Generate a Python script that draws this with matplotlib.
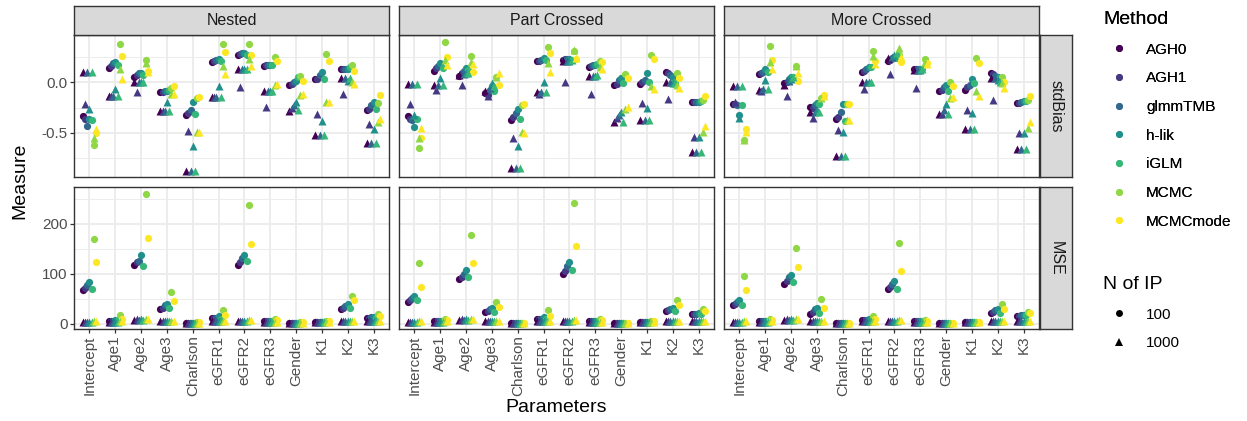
import numpy as np
import matplotlib
matplotlib.use("Agg")
import matplotlib.pyplot as plt
from matplotlib.lines import Line2D

plt.rcParams['font.family'] = ['Liberation Sans', 'DejaVu Sans']
plt.rcParams['axes.unicode_minus'] = False

params = ['Intercept', 'Age1', 'Age2', 'Age3', 'Charlson', 'eGFR1', 'eGFR2',
          'eGFR3', 'Gender', 'K1', 'K2', 'K3']
methods = ['AGH0', 'AGH1', 'glmmTMB', 'h-lik', 'iGLM', 'MCMC', 'MCMCmode']
method_colors = ['#440154', '#443A83', '#31688E', '#21908C', '#35B779',
                 '#8FD744', '#FDE725']
designs = ['Nested', 'Part Crossed', 'More Crossed']
n_ip = ['100', '1000']

# stdBias, one row per parameter, columns follow `methods`
nested_bias_100 = [
    [-0.33, -0.36, -0.43, -0.36, -0.37, -0.62, -0.50],
    [0.145, 0.16, 0.19, 0.20, 0.17, 0.38, 0.26],
    [0.055, 0.07, 0.09, 0.09, 0.07, 0.22, 0.11],
    [-0.10, -0.10, -0.09, -0.085, -0.08, -0.06, -0.04],
    [-0.32, -0.30, -0.27, -0.19, -0.31, -0.16, -0.15],
    [0.20, 0.21, 0.22, 0.23, 0.21, 0.38, 0.30],
    [0.27, 0.28, 0.29, 0.29, 0.27, 0.38, 0.27],
    [0.16, 0.17, 0.17, 0.17, 0.17, 0.25, 0.21],
    [-0.03, -0.02, 0.0, 0.015, 0.05, 0.065, 0.015],
    [0.03, 0.03, 0.07, 0.10, 0.03, 0.28, 0.21],
    [0.13, 0.13, 0.13, 0.13, 0.155, 0.17, 0.11],
    [-0.27, -0.26, -0.225, -0.19, -0.26, -0.20, -0.13],
]
nested_bias_1000 = [
    [0.10, -0.21, 0.10, -0.26, 0.10, -0.55, -0.46],
    [-0.14, -0.14, -0.14, -0.07, -0.14, 0.13, 0.03],
    [0.0, -0.10, 0.0, 0.005, 0.0, 0.19, 0.10],
    [-0.28, -0.28, -0.28, -0.19, -0.28, -0.12, -0.12],
    [-0.87, -0.48, -0.87, -0.63, -0.87, -0.49, -0.49],
    [-0.15, -0.15, -0.15, -0.04, -0.15, 0.16, 0.08],
    [0.13, -0.05, 0.13, 0.13, 0.13, 0.23, 0.16],
    [-0.085, -0.24, -0.085, -0.085, -0.085, -0.03, -0.02],
    [-0.28, -0.25, -0.22, -0.19, -0.27, -0.13, -0.12],
    [-0.52, -0.31, -0.52, -0.38, -0.52, -0.19, -0.19],
    [0.04, -0.12, 0.04, 0.015, 0.04, 0.005, -0.02],
    [-0.60, -0.41, -0.60, -0.46, -0.60, -0.39, -0.36],
]
part_bias_100 = [
    [-0.33, -0.36, -0.37, -0.44, -0.36, -0.65, -0.55],
    [0.115, 0.14, 0.16, 0.19, 0.14, 0.40, 0.25],
    [0.06, 0.09, 0.115, 0.14, 0.12, 0.26, 0.105],
    [-0.11, -0.125, -0.075, -0.04, -0.09, 0.055, -0.03],
    [-0.37, -0.34, -0.30, -0.26, -0.36, -0.225, -0.215],
    [0.21, 0.21, 0.22, 0.24, 0.22, 0.35, 0.29],
    [0.22, 0.23, 0.23, 0.23, 0.22, 0.31, 0.23],
    [0.155, 0.16, 0.17, 0.17, 0.18, 0.21, 0.20],
    [-0.03, -0.02, 0.02, 0.04, -0.01, 0.08, 0.045],
    [-0.02, 0.005, 0.02, 0.095, 0.0, 0.27, 0.23],
    [0.10, 0.09, 0.07, 0.055, 0.005, 0.095, 0.04],
    [-0.19, -0.19, -0.19, -0.19, -0.185, -0.175, -0.135],
]
part_bias_1000 = [
    [-0.02, -0.21, -0.02, -0.32, -0.02, -0.55, -0.45],
    [-0.03, -0.08, -0.03, 0.045, -0.03, 0.22, 0.17],
    [0.07, -0.03, 0.08, 0.09, 0.09, 0.20, 0.18],
    [-0.09, -0.14, -0.06, -0.01, -0.04, 0.055, 0.095],
    [-0.85, -0.55, -0.85, -0.63, -0.85, -0.49, -0.50],
    [-0.10, -0.12, -0.10, 0.0, -0.10, 0.19, 0.105],
    [0.21, 0.005, 0.21, 0.21, 0.22, 0.32, 0.24],
    [0.06, -0.12, 0.06, 0.06, 0.07, 0.155, 0.13],
    [-0.39, -0.35, -0.32, -0.29, -0.39, -0.26, -0.24],
    [-0.37, -0.20, -0.37, -0.25, -0.37, -0.04, -0.07],
    [0.005, -0.165, 0.005, -0.01, -0.01, -0.03, -0.06],
    [-0.69, -0.54, -0.69, -0.54, -0.69, -0.49, -0.43],
]
more_bias_100 = [
    [-0.215, -0.21, -0.225, -0.32, -0.225, -0.57, -0.46],
    [0.08, 0.09, 0.105, 0.13, 0.105, 0.36, 0.22],
    [-0.01, 0.005, 0.03, 0.055, 0.055, 0.16, 0.015],
    [-0.24, -0.25, -0.225, -0.20, -0.215, -0.16, -0.13],
    [-0.365, -0.34, -0.29, -0.21, -0.38, -0.21, -0.215],
    [0.105, 0.115, 0.13, 0.155, 0.15, 0.31, 0.21],
    [0.205, 0.22, 0.24, 0.24, 0.24, 0.27, 0.20],
    [0.13, 0.13, 0.13, 0.13, 0.13, 0.23, 0.19],
    [-0.085, -0.075, -0.05, -0.03, -0.085, 0.005, -0.035],
    [-0.075, -0.05, -0.03, 0.03, -0.01, 0.24, 0.19],
    [0.09, 0.08, 0.06, 0.055, 0.04, 0.055, 0.005],
    [-0.20, -0.20, -0.19, -0.185, -0.185, -0.175, -0.14],
]
more_bias_1000 = [
    [-0.035, -0.19, -0.035, -0.35, -0.035, -0.57, -0.49],
    [-0.075, -0.085, -0.07, 0.02, -0.07, 0.20, 0.13],
    [-0.03, -0.135, 0.015, 0.03, 0.055, 0.16, 0.09],
    [-0.29, -0.355, -0.29, -0.275, -0.29, -0.16, -0.14],
    [-0.73, -0.47, -0.73, -0.49, -0.73, -0.37, -0.37],
    [0.0, -0.07, 0.0, 0.005, 0.0, 0.26, 0.18],
    [0.24, 0.08, 0.25, 0.27, 0.29, 0.335, 0.25],
    [0.12, -0.055, 0.12, 0.12, 0.13, 0.20, 0.18],
    [-0.31, -0.31, -0.275, -0.215, -0.31, -0.16, -0.15],
    [-0.46, -0.27, -0.46, -0.30, -0.46, -0.09, -0.135],
    [0.04, -0.17, 0.04, 0.02, 0.005, -0.01, -0.06],
    [-0.66, -0.50, -0.66, -0.505, -0.66, -0.45, -0.39],
]

# MSE
nested_mse_100 = [
    [68, 71, 77, 84, 70, 170, 123],
    [5, 5, 6, 7, 8, 17, 10],
    [117, 124, 126, 138, 115, 260, 172],
    [29, 32, 37, 40, 31, 64, 46],
    [2, 2, 2, 2, 2, 2.5, 2.5],
    [12, 11, 12, 15, 10, 28, 17],
    [118, 123, 132, 138, 126, 237, 159],
    [6, 6, 6, 6, 6, 9, 7],
    [2, 2, 2, 2, 2, 2.5, 2.5],
    [4, 4, 4, 4, 4, 6, 5],
    [29, 32, 35, 39, 31, 56, 47],
    [11, 12, 13, 13, 11, 19, 15],
]
nested_mse_1000 = [
    [4, 4, 4, 4, 4, 5, 5],
    [4, 4, 4, 4, 4, 5, 5],
    [8, 9, 8, 9, 8, 10, 10],
    [5, 5, 5, 5, 5, 5, 5],
    [1.5, 1.5, 1.5, 1.5, 1.5, 1.5, 1.5],
    [5, 5, 5, 5, 5, 6, 5],
    [6, 6, 6, 6, 6, 7, 7],
    [4, 4, 4, 4, 4, 4, 4],
    [1.5, 1.5, 1.5, 1.5, 1.5, 1.5, 1.5],
    [3, 3, 3, 3, 3, 3, 3],
    [5, 5, 5, 5, 5, 5, 5],
    [6, 6, 6, 6, 6, 6, 6],
]
part_mse_100 = [
    [44, 48, 52, 56, 47, 121, 74],
    [5, 5, 5, 6, 5, 9, 8],
    [89, 93, 100, 107, 94, 178, 121],
    [24, 26, 29, 32, 24, 44, 34],
    [2, 2, 2, 2, 2, 2, 2],
    [9, 10, 10, 14, 10, 27, 15],
    [100, 106, 116, 124, 108, 242, 156],
    [6, 6, 6, 6, 6, 9, 7],
    [2, 2, 2, 2, 2, 2, 2],
    [4, 4, 4, 4, 4, 5, 5],
    [26, 28, 30, 32, 26, 47, 37],
    [19, 19, 20, 21, 20, 29, 26],
]
part_mse_1000 = [
    [4, 4, 4, 4, 4, 5, 5],
    [4, 4, 4, 4, 4, 5, 5],
    [8, 9, 8, 9, 8, 10, 10],
    [5, 5, 5, 5, 5, 5, 5],
    [1.5, 1.5, 1.5, 1.5, 1.5, 1.5, 1.5],
    [5, 5, 5, 5, 5, 6, 5],
    [6, 6, 6, 6, 6, 7, 7],
    [4, 4, 4, 4, 4, 4, 4],
    [1.5, 1.5, 1.5, 1.5, 1.5, 1.5, 1.5],
    [3, 3, 3, 3, 3, 3, 3],
    [5, 5, 5, 5, 5, 5, 5],
    [5, 5, 5, 5, 5, 5, 5],
]
more_mse_100 = [
    [37, 39, 44, 48, 37, 95, 67],
    [5, 5, 5, 6, 5, 10, 8],
    [79, 86, 93, 98, 83, 152, 114],
    [20, 23, 29, 32, 22, 50, 32],
    [2, 2, 2, 2, 2, 2, 2],
    [7, 8, 8, 10, 8, 15, 10],
    [70, 74, 79, 85, 70, 161, 106],
    [5, 5, 5, 6, 5, 7, 6],
    [2, 2, 2, 2, 2, 2, 2],
    [4, 4, 4, 4, 4, 4, 4],
    [21, 23, 27, 29, 22, 39, 30],
    [15, 16, 17, 18, 17, 23, 21],
]
more_mse_1000 = [
    [4, 4, 4, 4, 4, 5, 5],
    [4, 4, 4, 4, 4, 5, 5],
    [8, 9, 8, 9, 8, 10, 10],
    [5, 5, 5, 5, 5, 5, 5],
    [1.5, 1.5, 1.5, 1.5, 1.5, 1.5, 1.5],
    [5, 5, 5, 5, 5, 5, 5],
    [6, 6, 6, 6, 6, 7, 7],
    [4, 4, 4, 4, 4, 4, 4],
    [1.5, 1.5, 1.5, 1.5, 1.5, 1.5, 1.5],
    [3, 3, 3, 3, 3, 3, 3],
    [5, 5, 5, 5, 5, 5, 5],
    [5, 5, 5, 5, 5, 5, 5],
]

panel_data = {
    ('stdBias', 'Nested'): (nested_bias_100, nested_bias_1000),
    ('stdBias', 'Part Crossed'): (part_bias_100, part_bias_1000),
    ('stdBias', 'More Crossed'): (more_bias_100, more_bias_1000),
    ('MSE', 'Nested'): (nested_mse_100, nested_mse_1000),
    ('MSE', 'Part Crossed'): (part_mse_100, part_mse_1000),
    ('MSE', 'More Crossed'): (more_mse_100, more_mse_1000),
}
measures = ['stdBias', 'MSE']

W, H = 1247, 421
fig = plt.figure(figsize=(W / 100, H / 100), dpi=100)


def px_axes(x0, y0, w, h):
    # place an axes using pixel coordinates measured from the top-left corner
    return fig.add_axes([x0 / W, 1 - (y0 + h) / H, w / W, h / H])


col_left = [74, 399, 724]
row_top = [35, 187]
pw, ph = 315, 142
dodge = 0.6
border = '#333333'
grid_c = '#EBEBEB'

row_ylim = [(-0.934, 0.466), (-10.7, 273)]
row_major = [[-0.5, 0.0], [0, 100, 200]]
row_labels = [['-0.5', '0.0'], ['0', '100', '200']]
row_minor = [[-0.75, -0.25, 0.25], [50, 150, 250]]

xpos = np.arange(len(params)) + 1

for r, meas in enumerate(measures):
    for c, des in enumerate(designs):
        ax = px_axes(col_left[c], row_top[r], pw, ph)
        v100, v1000 = panel_data[(meas, des)]
        v100 = np.array(v100)
        v1000 = np.array(v1000)
        for vals, mk, sz in ((v100, 'o', 27), (v1000, '^', 33)):
            for m, col in enumerate(method_colors):
                off = (m - 3) * dodge / len(methods)
                ax.scatter(xpos + off, vals[:, m], marker=mk, s=sz, color=col,
                           linewidths=0, zorder=3)
        ax.set_xlim(0.4, len(params) + 0.6)
        ax.set_ylim(*row_ylim[r])
        ax.set_xticks(xpos)
        ax.set_yticks(row_major[r])
        ax.set_yticks(row_minor[r], minor=True)
        ax.grid(which='major', color=grid_c, linewidth=1.3, zorder=0)
        ax.grid(which='minor', axis='y', color=grid_c, linewidth=0.65, zorder=0)
        ax.set_axisbelow(True)
        for sp in ax.spines.values():
            sp.set_color(border)
            sp.set_linewidth(1.0)
        ax.tick_params(which='minor', length=0)
        ax.tick_params(which='major', color=border, length=3.2, width=0.9,
                       labelcolor='#4D4D4D', labelsize=11, pad=1.5)
        if c == 0:
            ax.set_yticklabels(row_labels[r])
        else:
            ax.tick_params(axis='y', length=0, labelleft=False)
        if r == 1:
            ax.set_xticklabels(params, rotation=90)
        else:
            ax.tick_params(axis='x', length=0, labelbottom=False)

        if r == 0:
            sax = px_axes(col_left[c], 6, pw, 29)
            sax.set_facecolor('#D9D9D9')
            sax.set_xticks([])
            sax.set_yticks([])
            for sp in sax.spines.values():
                sp.set_color(border)
                sp.set_linewidth(1.0)
            sax.text(0.5, 0.5, des, ha='center', va='center', fontsize=11.5,
                     color='#1A1A1A', transform=sax.transAxes)

    rax = px_axes(1040, row_top[r], 32, ph)
    rax.set_facecolor('#D9D9D9')
    rax.set_xticks([])
    rax.set_yticks([])
    for sp in rax.spines.values():
        sp.set_color(border)
        sp.set_linewidth(1.0)
    rax.text(0.5, 0.5, meas, ha='center', va='center', rotation=-90,
             fontsize=11.5, color='#1A1A1A', transform=rax.transAxes)

fig.text(20 / W, 1 - 181 / H, 'Measure', rotation=90, ha='center',
         va='center', fontsize=14)
fig.text(556 / W, 1 - 408 / H, 'Parameters', ha='center', va='center',
         fontsize=14)

# legends
h_method = [Line2D([], [], ls='', marker='o', markersize=5, color=col,
                   markeredgewidth=0) for col in method_colors]
leg1 = fig.legend(h_method, methods, title='Method', loc='upper left',
                  bbox_to_anchor=(1103 / W, 1 - 11 / H), frameon=False,
                  fontsize=11, title_fontsize=14, handlelength=2.09,
                  handletextpad=0.72, labelspacing=0.96, borderpad=0,
                  borderaxespad=0, alignment='left')
h_n = [Line2D([], [], ls='', marker='o', markersize=5, color='black',
              markeredgewidth=0),
       Line2D([], [], ls='', marker='^', markersize=6, color='black',
              markeredgewidth=0)]
leg2 = fig.legend(h_n, n_ip, title='N of IP', loc='upper left',
                  bbox_to_anchor=(1103 / W, 1 - 276 / H), frameon=False,
                  fontsize=11, title_fontsize=14, handlelength=2.09,
                  handletextpad=0.72, labelspacing=0.96, borderpad=0,
                  borderaxespad=0, alignment='left')
fig.add_artist(leg1)

fig.savefig('out.png', dpi=100)
